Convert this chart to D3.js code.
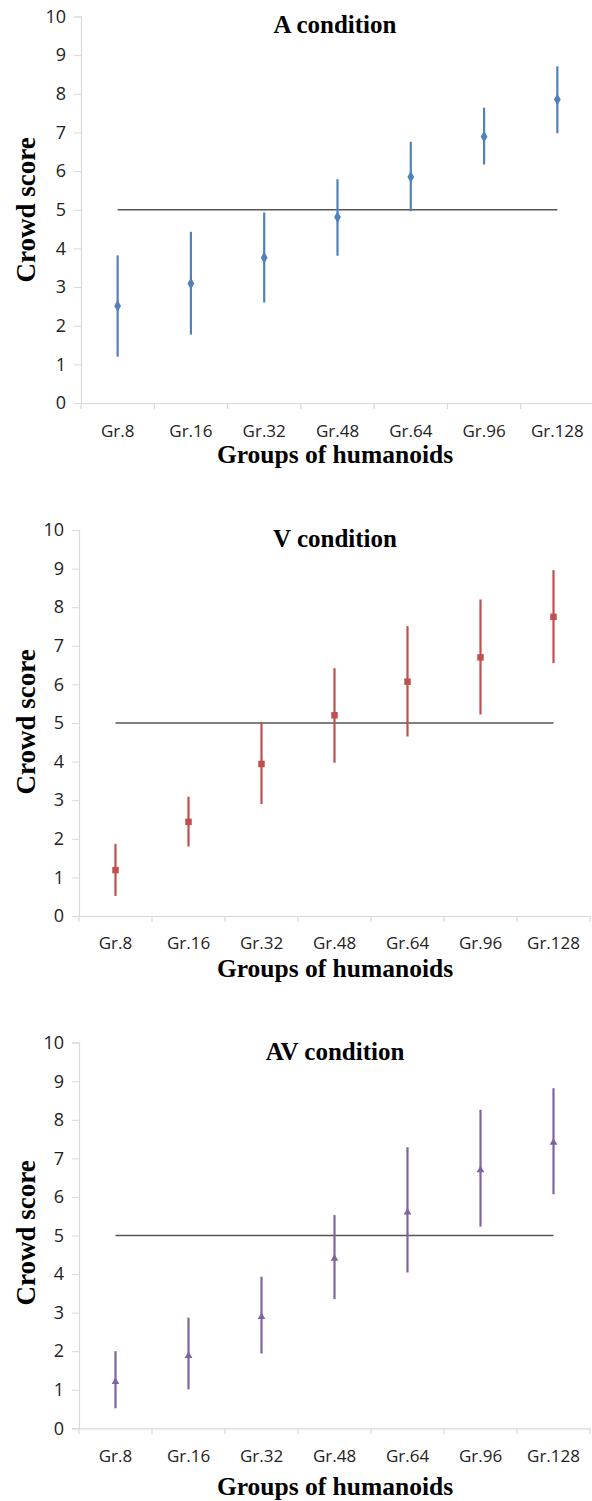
<!DOCTYPE html>
<html><head><meta charset="utf-8">
<script src="https://cdn.jsdelivr.net/npm/d3@7"></script>
<style>body{margin:0;background:#fff}svg{display:block}</style>
</head><body>
<script>
const categories = ["Gr.8","Gr.16","Gr.32","Gr.48","Gr.64","Gr.96","Gr.128"];
const yTicks = [0,1,2,3,4,5,6,7,8,9,10];
const refValue = 5;

const aMean = [2.51,3.09,3.76,4.81,5.85,6.89,7.85];
const aHigh = [3.82,4.43,4.93,5.79,6.76,7.64,8.71];
const aLow  = [1.20,1.77,2.60,3.81,4.96,6.17,6.98];

const vMean = [1.19,2.44,3.94,5.20,6.07,6.70,7.75];
const vHigh = [1.87,3.09,5.02,6.42,7.51,8.20,8.96];
const vLow  = [0.52,1.80,2.90,3.97,4.65,5.22,6.55];

const avMean = [1.21,1.88,2.89,4.40,5.60,6.70,7.41];
const avHigh = [2.00,2.87,3.93,5.53,7.29,8.26,8.82];
const avLow  = [0.52,1.01,1.94,3.35,4.04,5.23,6.07];

const W = 592, H = 1501;
const svg = d3.select("body").append("svg").attr("width", W).attr("height", H);

const panels = [
  {title:"A condition", mean:aMean, hi:aHigh, lo:aLow, color:"#4f81bd", symbol:d3.symbolDiamond, size:40,
   x0:81, x1:594, yTop:16.5, yBot:403, titleY:33, tickY:432, xTitleY:463, yTitleY:210},
  {title:"V condition", mean:vMean, hi:vHigh, lo:vLow, color:"#c0504d", symbol:d3.symbolSquare, size:42,
   x0:79, x1:590, yTop:530, yBot:916, titleY:547, tickY:944, xTitleY:977, yTitleY:722},
  {title:"AV condition", mean:avMean, hi:avHigh, lo:avLow, color:"#8064a2", symbol:d3.symbolTriangle, size:26,
   x0:79, x1:590, yTop:1042.7, yBot:1428.3, titleY:1060, tickY:1457, xTitleY:1495, yTitleY:1233}
];

const serif = "'Liberation Serif', 'Times New Roman', serif";
const sans = "'Open Sans', sans-serif";

panels.forEach(p => {
  const g = svg.append("g");
  const x = d3.scaleBand().domain(categories).range([p.x0, p.x1]);
  const y = d3.scaleLinear().domain([0,10]).range([p.yBot, p.yTop]);

  // y axis
  const ya = g.append("g").attr("transform", `translate(${p.x0},0)`)
    .call(d3.axisLeft(y).tickValues(yTicks).tickSize(7).tickPadding(8).tickFormat(d3.format("d")));
  ya.select(".domain").attr("stroke","#d9d9d9").attr("stroke-width",1.2);
  ya.selectAll(".tick line").attr("stroke","#d9d9d9");
  ya.selectAll("text").attr("font-family",sans).attr("font-size",18).attr("fill","#222");

  // x axis
  const xa = g.append("g").attr("transform", `translate(0,${p.yBot})`)
    .call(d3.axisBottom(x).tickSize(0).tickFormat(""));
  xa.select(".domain").attr("stroke","#d9d9d9").attr("stroke-width",1.2);
  const bounds = categories.map(c => x(c)).concat([x(categories[categories.length-1]) + x.bandwidth()]);
  g.selectAll(".bt").data(bounds).enter().append("line")
    .attr("x1", d=>d).attr("x2", d=>d).attr("y1", p.yBot).attr("y2", p.yBot+6)
    .attr("stroke","#d9d9d9").attr("stroke-width",1.2);
  g.selectAll(".xl").data(categories).enter().append("text")
    .attr("x", d => x(d) + x.bandwidth()/2).attr("y", p.tickY)
    .attr("text-anchor","middle").attr("dominant-baseline","middle")
    .attr("font-family",sans).attr("font-size",17).attr("fill","#222")
    .text(d=>d);

  // reference line
  g.append("line")
    .attr("x1", x(categories[0]) + x.bandwidth()/2)
    .attr("x2", x(categories[categories.length-1]) + x.bandwidth()/2)
    .attr("y1", y(refValue)).attr("y2", y(refValue))
    .attr("stroke","#555").attr("stroke-width",1.5);

  // error bars
  g.selectAll(".eb").data(categories).enter().append("line")
    .attr("x1", d => x(d)+x.bandwidth()/2).attr("x2", d => x(d)+x.bandwidth()/2)
    .attr("y1", (d,i)=>y(p.lo[i])).attr("y2", (d,i)=>y(p.hi[i]))
    .attr("stroke", p.color).attr("stroke-width", 2.2);

  // markers
  g.selectAll(".mk").data(categories).enter().append("path")
    .attr("d", d3.symbol().type(p.symbol).size(p.size))
    .attr("transform", (d,i)=>`translate(${x(d)+x.bandwidth()/2},${y(p.mean[i])})`)
    .attr("fill", p.color);

  // titles
  g.append("text").attr("x", 335).attr("y", p.titleY).attr("text-anchor","middle")
    .attr("font-family",serif).attr("font-weight","bold")
    .attr("font-size",25).attr("fill","#000").text(p.title);
  g.append("text").attr("x", 335).attr("y", p.xTitleY).attr("text-anchor","middle")
    .attr("font-family",serif).attr("font-weight","bold")
    .attr("font-size",25.5).attr("fill","#000").text("Groups of humanoids");
  g.append("text").attr("transform", `translate(35,${p.yTitleY}) rotate(-90)`).attr("text-anchor","middle")
    .attr("font-family",serif).attr("font-weight","bold")
    .attr("font-size",27).attr("fill","#000").text("Crowd score");
});
</script>
</body></html>
